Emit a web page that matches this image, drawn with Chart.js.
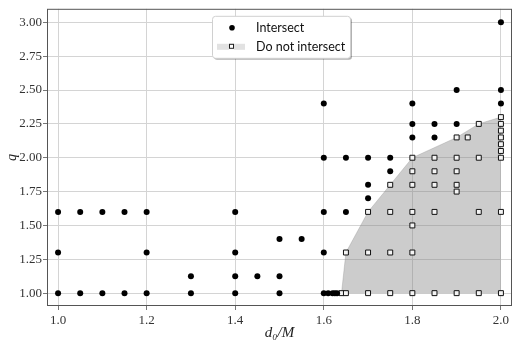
<!DOCTYPE html>
<html>
<head>
<meta charset="utf-8">
<script src="https://cdn.jsdelivr.net/npm/chart.js@4.4.1/dist/chart.umd.min.js"></script>
<style>
  html, body { margin: 0; padding: 0; background: #fff; }
  #wrap { width: 518px; height: 346px; }
</style>
</head>
<body>
<div id="wrap"><canvas id="myChart" width="518" height="346"></canvas></div>
<script>
// points where the orbits intersect
const hitD0 = [1.0, 1.0, 1.0, 1.05, 1.05, 1.1, 1.1, 1.15, 1.15, 1.2, 1.2, 1.2,
  1.3, 1.3, 1.4, 1.4, 1.4, 1.4, 1.45, 1.5, 1.5, 1.5, 1.55,
  1.6, 1.6, 1.6, 1.6, 1.6, 1.61, 1.62, 1.625, 1.63,
  1.65, 1.65, 1.7, 1.7, 1.7, 1.75, 1.75, 1.8, 1.8, 1.8, 1.85, 1.85, 1.9, 1.9,
  2.0, 2.0, 2.0];
const hitQ = [1.0, 1.3, 1.6, 1.0, 1.6, 1.0, 1.6, 1.0, 1.6, 1.0, 1.3, 1.6,
  1.0, 1.125, 1.0, 1.125, 1.3, 1.6, 1.125, 1.0, 1.125, 1.4, 1.4,
  1.0, 1.3, 1.6, 2.0, 2.4, 1.0, 1.0, 1.0, 1.0,
  1.6, 2.0, 1.7, 1.8, 2.0, 1.9, 2.0, 2.15, 2.25, 2.4, 2.15, 2.25, 2.25, 2.5,
  2.4, 2.5, 3.0];

// points where they do not intersect
const missD0 = [1.64, 1.65, 1.65, 1.7, 1.7, 1.7, 1.75, 1.75, 1.75, 1.75,
  1.8, 1.8, 1.8, 1.8, 1.8, 1.8, 1.8, 1.85, 1.85, 1.85, 1.85, 1.85,
  1.9, 1.9, 1.9, 1.9, 1.9, 1.9, 1.925, 1.95, 1.95, 1.95, 1.95,
  2.0, 2.0, 2.0, 2.0, 2.0, 2.0, 2.0, 2.0, 2.0];
const missQ = [1.0, 1.0, 1.3, 1.0, 1.3, 1.6, 1.0, 1.3, 1.6, 1.8,
  1.0, 1.3, 1.5, 1.6, 1.8, 1.9, 2.0, 1.0, 1.6, 1.8, 1.9, 2.0,
  1.0, 1.75, 1.8, 1.9, 2.0, 2.15, 2.15, 1.0, 1.6, 2.0, 2.25,
  1.0, 1.6, 2.0, 2.05, 2.1, 2.15, 2.2, 2.25, 2.3];

// upper edge of the shaded region (filled down to q = 1)
const edgeD0 = [1.64, 1.65, 1.7, 1.8, 1.9, 1.95, 2.0];
const edgeQ = [1.0, 1.3, 1.6, 2.0, 2.15, 2.25, 2.3];

const xTicks = [1.0, 1.2, 1.4, 1.6, 1.8, 2.0];
const yTicks = [1.0, 1.25, 1.5, 1.75, 2.0, 2.25, 2.5, 2.75, 3.0];

const toPts = (xs, ys) => xs.map((x, i) => ({ x: x, y: ys[i] }));

const serif = "'Liberation Serif', 'DejaVu Serif', serif";

const frameAndLegend = {
  id: 'frameAndLegend',
  afterDraw(chart) {
    const { ctx, chartArea: a } = chart;
    ctx.save();
    ctx.strokeStyle = '#555';
    ctx.lineWidth = 1;
    ctx.strokeRect(a.left + 0.5, a.top + 0.5, a.right - a.left - 1, a.bottom - a.top - 1);

    // legend box, upper centre
    const w = 138, h = 42;
    const lx = Math.round((a.left + a.right) / 2 - w / 2) + 1;
    const ly = a.top + 7;
    const rr = (x, y) => {
      ctx.beginPath();
      ctx.roundRect(x, y, w, h, 3);
    };
    ctx.fillStyle = 'rgba(0,0,0,0.3)';
    rr(lx + 2, ly + 2);
    ctx.fill();
    ctx.fillStyle = '#fff';
    ctx.strokeStyle = '#d0d0d0';
    rr(lx + 0.5, ly + 0.5);
    ctx.fill();
    ctx.stroke();

    ctx.fillStyle = '#000';
    ctx.beginPath();
    ctx.arc(lx + 20, ly + 12, 2.8, 0, Math.PI * 2);
    ctx.fill();

    ctx.fillStyle = '#e2e2e2';
    ctx.fillRect(lx + 5, ly + 28, 28, 6);
    ctx.fillStyle = '#fff';
    ctx.strokeStyle = '#222';
    ctx.fillRect(lx + 17, ly + 29, 5, 5);
    ctx.strokeRect(lx + 17.5, ly + 28.5, 4, 4);

    ctx.fillStyle = '#111';
    ctx.font = "12.5px Lato, 'Open Sans', sans-serif";
    ctx.textBaseline = 'middle';
    ctx.fillText('Intersect', lx + 44, ly + 12);
    ctx.fillText('Do not intersect', lx + 44, ly + 31);
    ctx.restore();
  }
};

const ctx = document.getElementById('myChart').getContext('2d');
new Chart(ctx, {
  type: 'scatter',
  data: {
    datasets: [
      {
        label: 'Intersect',
        data: toPts(hitD0, hitQ),
        pointStyle: 'circle',
        pointRadius: 3,
        pointBackgroundColor: '#000',
        pointBorderWidth: 0,
        order: 1
      },
      {
        label: 'Do not intersect',
        data: toPts(missD0, missQ),
        pointStyle: 'rect',
        pointRadius: 3.5,
        pointBackgroundColor: '#f4f4f4',
        pointBorderColor: '#111',
        pointBorderWidth: 1,
        order: 2
      },
      {
        label: 'region',
        data: toPts(edgeD0, edgeQ),
        showLine: true,
        pointRadius: 0,
        borderWidth: 0.6,
        borderColor: 'rgba(128,128,128,0.5)',
        backgroundColor: 'rgba(128,128,128,0.4)',
        fill: { value: 1.0 },
        tension: 0,
        order: 3
      }
    ]
  },
  options: {
    responsive: false,
    animation: false,
    layout: { padding: { top: 5, right: 6, left: 0, bottom: 0 } },
    plugins: {
      legend: { display: false },
      tooltip: { enabled: false }
    },
    scales: {
      x: {
        type: 'linear',
        min: 0.975,
        max: 2.025,
        afterBuildTicks: s => { s.ticks = xTicks.map(v => ({ value: v })); },
        afterFit: s => { s.height = 40; },
        grid: { color: '#d4d4d4', tickColor: '#777', tickLength: 4, lineWidth: 1 },
        border: { display: false },
        ticks: {
          color: '#333',
          padding: 3,
          maxRotation: 0,
          font: { family: serif, size: 13 },
          callback: v => v.toFixed(1)
        },
        title: {
          display: true,
          text: 'd₀/M',
          color: '#222',
          padding: { top: 0, bottom: 4 },
          font: { family: serif, size: 15, style: 'italic' }
        }
      },
      y: {
        type: 'linear',
        min: 0.905,
        max: 3.1,
        afterBuildTicks: s => { s.ticks = yTicks.map(v => ({ value: v })); },
        afterFit: s => { s.width = 47; },
        grid: { color: '#d4d4d4', tickColor: '#777', tickLength: 4, lineWidth: 1 },
        border: { display: false },
        ticks: {
          color: '#333',
          padding: 1,
          font: { family: serif, size: 13 },
          callback: v => v.toFixed(2)
        },
        title: {
          display: true,
          text: 'q',
          color: '#222',
          padding: { top: 4, bottom: 0 },
          font: { family: serif, size: 14, style: 'italic' }
        }
      }
    }
  },
  plugins: [frameAndLegend]
});
</script>
</body>
</html>
